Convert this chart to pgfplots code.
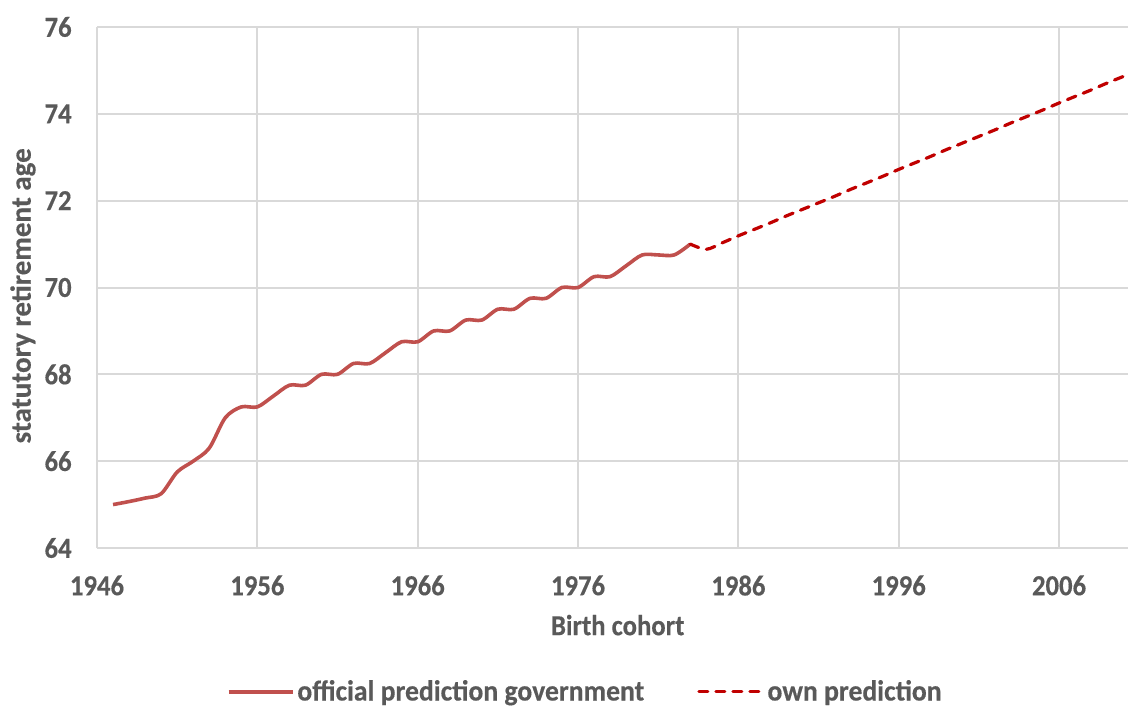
\documentclass[border=0pt]{standalone}
\usepackage{pgfplots}
\pgfplotsset{compat=1.18}
\usepackage{fontspec}
\setmainfont{Carlito}[FakeStretch=0.92, BoldFeatures={FakeBold=0.4}]
\newfontfamily\ylfont{Carlito}[BoldFeatures={FakeBold=0.4}]
\newfontfamily\lgfont{Carlito}[FakeStretch=0.955, BoldFeatures={FakeBold=0.4}]
\definecolor{txt}{HTML}{595959}
\definecolor{gridc}{HTML}{D9D9D9}
\definecolor{offc}{HTML}{C0504D}
\definecolor{ownc}{HTML}{C00000}
\begin{document}
\begin{tikzpicture}
\useasboundingbox (-48.5pt,-79.5pt) rectangle (515.5pt,274pt);
\begin{axis}[
  at={(0pt,0pt)}, anchor=south west,
  scale only axis, width=515.5pt, height=260.5pt,
  xmin=1946, xmax=2010.3, ymin=64, ymax=76,
  xtick={1946,1956,...,2006}, ytick={64,66,...,76},
  /pgf/number format/1000 sep={},
  /pgf/number format/assume math mode=true,
  scaled ticks=false,
  major tick length=0pt,
  axis lines*=left,
  axis line style={draw=gridc, line width=1pt, -},
  grid=major,
  major grid style={draw=gridc, line width=1pt},
  tick label style={font=\fontsize{14.5}{17}\selectfont\bfseries, text=txt},
  yticklabel style={anchor=east, inner sep=0pt, xshift=-12.5pt},
  xticklabel style={anchor=north, inner sep=0pt, yshift=-13.5pt},
  xlabel={Birth cohort},
  xlabel style={at={(axis description cs:0.505,-0.148)}, anchor=center, font=\fontsize{14.5}{17}\selectfont\bfseries, text=txt},
  ylabel={statutory retirement age},
  ylabel style={at={(axis description cs:-0.0718,0.484)}, anchor=center, font=\ylfont\fontsize{14.5}{17}\selectfont\bfseries, text=txt},
  legend style={at={(0.474,-0.276)}, anchor=center, draw=none, fill=none,
    font=\lgfont\fontsize{14.5}{17}\selectfont\bfseries, text=txt,
    /tikz/every even column/.append style={column sep=25pt},
    nodes={inner sep=1.5pt}},
  legend columns=2,
  legend cell align=left,
  legend image code/.code={\draw[#1] (0pt,0pt) -- (32pt,0pt);},
]
\addplot[offc, line width=1.8pt, smooth, tension=0.5] coordinates {
(1947,65.00) (1948,65.07) (1949,65.15) (1950,65.25) (1951,65.75) (1952,66.00)
(1953,66.30) (1954,67.00) (1955,67.25) (1956,67.25) (1957,67.50) (1958,67.75)
(1959,67.75) (1960,68.00) (1961,68.00) (1962,68.25) (1963,68.25) (1964,68.50)
(1965,68.75) (1966,68.75) (1967,69.00) (1968,69.00) (1969,69.25) (1970,69.25)
(1971,69.50) (1972,69.50) (1973,69.75) (1974,69.75) (1975,70.00) (1976,70.00)
(1977,70.25) (1978,70.25) (1979,70.50) (1980,70.75) (1981,70.75) (1982,70.75)
(1983,71.00)
};
\addlegendentry{official prediction government}
\addplot[ownc, line width=1.6pt, smooth, tension=0.5, line cap=round, dash pattern=on 4.5pt off 4pt] coordinates {
(1983,71.00) (1984,70.88) (1985,71.03) (1986,71.19) (1987,71.34) (1988,71.49)
(1989,71.65) (1990,71.80) (1991,71.95) (1992,72.10) (1993,72.26) (1994,72.41)
(1995,72.56) (1996,72.72) (1997,72.87) (1998,73.02) (1999,73.18) (2000,73.33)
(2001,73.48) (2002,73.63) (2003,73.79) (2004,73.94) (2005,74.09) (2006,74.25)
(2007,74.40) (2008,74.55) (2009,74.71) (2010,74.86)
};
\addlegendentry{own prediction}
\end{axis}
\end{tikzpicture}
\end{document}
